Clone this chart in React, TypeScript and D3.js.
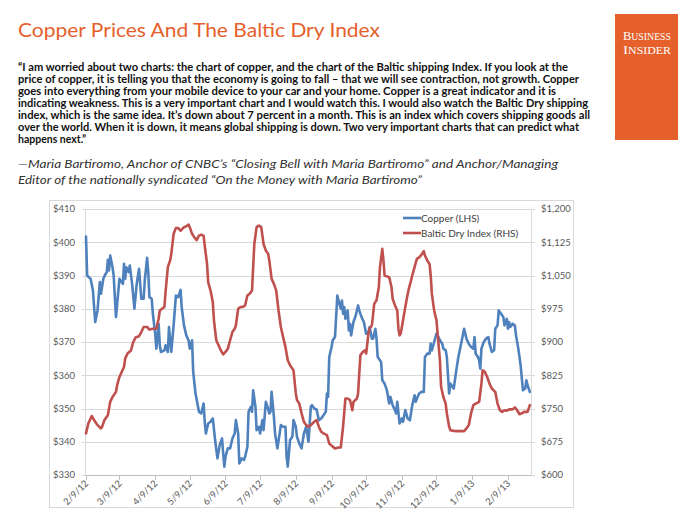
import React from "react";
import * as d3 from "d3";

const copper: [string, number][] = [
  ["2012-02-09", 401.7], ["2012-02-10", 390], ["2012-02-13", 389], ["2012-02-15", 385.5], ["2012-02-17", 376],
  ["2012-02-19", 379.5], ["2012-02-21", 388], ["2012-02-22", 384.5], ["2012-02-24", 389], ["2012-02-26", 390.5],
  ["2012-02-27", 391], ["2012-02-28", 394.7], ["2012-02-29", 391.5], ["2012-03-01", 396], ["2012-03-03", 392.5],
  ["2012-03-04", 390], ["2012-03-06", 377.5], ["2012-03-09", 389], ["2012-03-10", 388.5], ["2012-03-12", 387.5],
  ["2012-03-13", 393.5], ["2012-03-14", 389], ["2012-03-15", 392.5], ["2012-03-17", 391], ["2012-03-18", 393],
  ["2012-03-20", 387.5], ["2012-03-22", 380], ["2012-03-24", 387.5], ["2012-03-26", 392], ["2012-03-28", 383],
  ["2012-03-30", 383], ["2012-03-31", 388.5], ["2012-04-02", 395.3], ["2012-04-03", 391], ["2012-04-04", 383.5],
  ["2012-04-06", 383], ["2012-04-07", 378.5], ["2012-04-09", 372.5], ["2012-04-10", 368], ["2012-04-12", 375.5],
  ["2012-04-13", 369], ["2012-04-14", 367], ["2012-04-17", 367.5], ["2012-04-18", 369], ["2012-04-20", 367],
  ["2012-04-21", 374.5], ["2012-04-23", 367], ["2012-04-25", 375], ["2012-04-27", 384], ["2012-04-29", 383.5],
  ["2012-05-01", 385.7], ["2012-05-02", 380.5], ["2012-05-04", 375], ["2012-05-06", 372], ["2012-05-08", 370.5],
  ["2012-05-09", 368], ["2012-05-11", 370.5], ["2012-05-12", 361], ["2012-05-14", 354.5], ["2012-05-17", 349],
  ["2012-05-19", 348.5], ["2012-05-21", 351.5], ["2012-05-22", 346], ["2012-05-23", 342.5], ["2012-05-25", 345.5],
  ["2012-05-27", 346], ["2012-05-29", 347], ["2012-05-31", 340.5], ["2012-06-02", 335], ["2012-06-04", 339],
  ["2012-06-06", 341], ["2012-06-07", 336.5], ["2012-06-08", 332.5], ["2012-06-09", 335.5], ["2012-06-11", 338],
  ["2012-06-13", 338], ["2012-06-15", 341], ["2012-06-17", 342.5], ["2012-06-18", 346.5], ["2012-06-20", 342.5],
  ["2012-06-21", 333.5], ["2012-06-23", 335], ["2012-06-25", 334.5], ["2012-06-26", 335.5], ["2012-06-28", 338.5],
  ["2012-06-29", 349], ["2012-07-01", 350.5], ["2012-07-02", 349], ["2012-07-03", 355.5], ["2012-07-05", 350.5],
  ["2012-07-06", 343.5], ["2012-07-08", 344.5], ["2012-07-09", 342.5], ["2012-07-11", 346.5], ["2012-07-12", 343.5],
  ["2012-07-14", 352], ["2012-07-15", 351], ["2012-07-17", 348.5], ["2012-07-18", 349], ["2012-07-19", 355],
  ["2012-07-21", 347.5], ["2012-07-22", 342.5], ["2012-07-24", 338], ["2012-07-26", 342.5], ["2012-07-27", 345],
  ["2012-07-29", 344.5], ["2012-07-31", 344.5], ["2012-08-01", 335.5], ["2012-08-02", 332.5], ["2012-08-04", 340.5],
  ["2012-08-06", 341.5], ["2012-08-07", 346.5], ["2012-08-09", 344.5], ["2012-08-10", 341.5], ["2012-08-12", 339.5],
  ["2012-08-14", 338], ["2012-08-16", 342.5], ["2012-08-18", 344.5], ["2012-08-20", 340], ["2012-08-22", 350.5],
  ["2012-08-23", 351], ["2012-08-25", 350], ["2012-08-27", 349.7], ["2012-08-29", 346.5], ["2012-08-31", 347],
  ["2012-09-02", 348], ["2012-09-04", 349], ["2012-09-05", 354.5], ["2012-09-06", 353.5], ["2012-09-07", 365.5],
  ["2012-09-09", 368.5], ["2012-09-10", 370.5], ["2012-09-12", 371.5], ["2012-09-14", 384], ["2012-09-15", 382.5],
  ["2012-09-17", 380], ["2012-09-18", 382.5], ["2012-09-19", 378.5], ["2012-09-20", 380.5], ["2012-09-21", 377],
  ["2012-09-23", 379.5], ["2012-09-24", 373.5], ["2012-09-25", 375.5], ["2012-09-26", 372], ["2012-09-28", 376],
  ["2012-09-30", 378], ["2012-10-02", 381], ["2012-10-03", 379.5], ["2012-10-05", 377.5], ["2012-10-07", 376],
  ["2012-10-09", 372.5], ["2012-10-11", 373], ["2012-10-12", 374.5], ["2012-10-14", 371], ["2012-10-15", 371],
  ["2012-10-17", 374], ["2012-10-18", 371], ["2012-10-19", 365.5], ["2012-10-22", 364], ["2012-10-23", 358.5],
  ["2012-10-25", 357.5], ["2012-10-27", 355.5], ["2012-10-29", 351.5], ["2012-10-30", 353.5], ["2012-11-01", 351],
  ["2012-11-03", 349.5], ["2012-11-04", 348.5], ["2012-11-05", 352], ["2012-11-07", 345.5], ["2012-11-09", 347],
  ["2012-11-10", 346], ["2012-11-12", 349.5], ["2012-11-14", 347], ["2012-11-16", 346.5], ["2012-11-18", 351],
  ["2012-11-20", 354], ["2012-11-21", 352], ["2012-11-22", 353], ["2012-11-24", 354.5], ["2012-11-26", 355],
  ["2012-11-28", 355], ["2012-11-29", 365.5], ["2012-12-01", 366.5], ["2012-12-03", 366.5], ["2012-12-04", 369.5],
  ["2012-12-05", 367.5], ["2012-12-07", 370], ["2012-12-09", 372.5], ["2012-12-10", 372], ["2012-12-12", 370.5],
  ["2012-12-14", 369.5], ["2012-12-15", 368], ["2012-12-17", 367.5], ["2012-12-18", 365.5], ["2012-12-20", 354.5],
  ["2012-12-21", 357.5], ["2012-12-23", 356.5], ["2012-12-24", 356], ["2012-12-26", 361], ["2012-12-28", 365.5],
  ["2012-12-31", 370.5], ["2013-01-02", 374], ["2013-01-04", 371], ["2013-01-06", 369.5], ["2013-01-08", 368.5],
  ["2013-01-10", 368], ["2013-01-11", 371.5], ["2013-01-12", 366.5], ["2013-01-14", 365.5], ["2013-01-15", 364.5],
  ["2013-01-16", 362], ["2013-01-17", 368], ["2013-01-19", 370], ["2013-01-21", 371], ["2013-01-23", 371.5],
  ["2013-01-24", 369.5], ["2013-01-26", 367], ["2013-01-28", 367.5], ["2013-01-29", 374], ["2013-01-31", 375],
  ["2013-02-01", 379.5], ["2013-02-03", 378.5], ["2013-02-05", 377.5], ["2013-02-06", 375], ["2013-02-08", 377],
  ["2013-02-09", 374], ["2013-02-10", 376], ["2013-02-11", 374.5], ["2013-02-13", 375.5], ["2013-02-15", 375],
  ["2013-02-16", 372], ["2013-02-18", 368], ["2013-02-20", 363], ["2013-02-22", 355.5], ["2013-02-24", 356],
  ["2013-02-25", 358.5], ["2013-02-26", 357], ["2013-02-28", 355],
];

const baltic: [string, number][] = [
  ["2012-02-09", 694], ["2012-02-11", 716], ["2012-02-13", 727.5], ["2012-02-14", 733], ["2012-02-17", 720],
  ["2012-02-19", 712.5], ["2012-02-22", 705], ["2012-02-23", 709], ["2012-02-25", 724], ["2012-02-28", 735],
  ["2012-03-01", 765], ["2012-03-03", 776], ["2012-03-06", 787.5], ["2012-03-07", 802.5], ["2012-03-09", 821],
  ["2012-03-11", 832.5], ["2012-03-13", 844], ["2012-03-14", 862.5], ["2012-03-16", 874], ["2012-03-19", 881],
  ["2012-03-21", 900], ["2012-03-23", 910], ["2012-03-26", 913], ["2012-03-28", 922.5], ["2012-03-30", 934],
  ["2012-04-02", 934], ["2012-04-04", 928], ["2012-04-07", 930], ["2012-04-10", 930], ["2012-04-12", 952.5],
  ["2012-04-13", 971], ["2012-04-15", 975], ["2012-04-17", 979], ["2012-04-18", 1012.5], ["2012-04-20", 1069],
  ["2012-04-22", 1084], ["2012-04-23", 1099], ["2012-04-25", 1144], ["2012-04-27", 1157], ["2012-04-29", 1157],
  ["2012-05-01", 1151], ["2012-05-04", 1159], ["2012-05-06", 1161], ["2012-05-08", 1165], ["2012-05-09", 1159],
  ["2012-05-11", 1144], ["2012-05-13", 1136], ["2012-05-15", 1130], ["2012-05-17", 1140], ["2012-05-19", 1142],
  ["2012-05-21", 1140], ["2012-05-22", 1117.5], ["2012-05-24", 1076], ["2012-05-25", 1035], ["2012-05-27", 1016],
  ["2012-05-29", 990], ["2012-05-30", 949], ["2012-06-01", 904], ["2012-06-03", 892.5], ["2012-06-05", 881],
  ["2012-06-07", 872], ["2012-06-09", 877.5], ["2012-06-11", 885], ["2012-06-13", 904], ["2012-06-15", 922.5],
  ["2012-06-17", 930], ["2012-06-18", 937.5], ["2012-06-20", 975], ["2012-06-22", 979], ["2012-06-24", 979],
  ["2012-06-26", 982.5], ["2012-06-28", 1005], ["2012-06-30", 1009], ["2012-07-02", 1016], ["2012-07-04", 1121],
  ["2012-07-06", 1159], ["2012-07-08", 1162.5], ["2012-07-10", 1159], ["2012-07-12", 1121], ["2012-07-14", 1106],
  ["2012-07-16", 1099], ["2012-07-17", 1084], ["2012-07-19", 1042.5], ["2012-07-21", 1031], ["2012-07-23", 1016],
  ["2012-07-25", 971], ["2012-07-27", 934], ["2012-07-29", 911], ["2012-07-31", 889], ["2012-08-02", 859],
  ["2012-08-04", 847.5], ["2012-08-07", 836], ["2012-08-09", 784], ["2012-08-10", 769], ["2012-08-12", 761],
  ["2012-08-14", 739], ["2012-08-16", 720], ["2012-08-18", 712.5], ["2012-08-20", 709], ["2012-08-22", 712.5],
  ["2012-08-25", 720], ["2012-08-27", 724], ["2012-08-29", 709], ["2012-08-31", 697.5], ["2012-09-02", 694],
  ["2012-09-05", 690], ["2012-09-07", 671], ["2012-09-10", 664], ["2012-09-12", 660], ["2012-09-15", 662],
  ["2012-09-17", 662], ["2012-09-19", 709], ["2012-09-21", 772.5], ["2012-09-23", 772.5], ["2012-09-25", 769],
  ["2012-09-27", 746], ["2012-09-28", 765], ["2012-10-01", 772.5], ["2012-10-02", 784], ["2012-10-04", 870],
  ["2012-10-06", 877.5], ["2012-10-08", 881], ["2012-10-09", 874], ["2012-10-11", 919], ["2012-10-12", 930],
  ["2012-10-14", 937.5], ["2012-10-16", 986], ["2012-10-18", 994], ["2012-10-19", 1009], ["2012-10-20", 1024],
  ["2012-10-21", 1069], ["2012-10-23", 1110], ["2012-10-24", 1084], ["2012-10-25", 1050], ["2012-10-27", 1048],
  ["2012-10-29", 1046], ["2012-10-31", 1024], ["2012-11-01", 997.5], ["2012-11-03", 982.5], ["2012-11-05", 971],
  ["2012-11-06", 930], ["2012-11-07", 915], ["2012-11-08", 919], ["2012-11-10", 949], ["2012-11-11", 964],
  ["2012-11-13", 994], ["2012-11-15", 1020], ["2012-11-17", 1039], ["2012-11-18", 1050], ["2012-11-20", 1069],
  ["2012-11-22", 1087.5], ["2012-11-24", 1091], ["2012-11-26", 1097], ["2012-11-28", 1105], ["2012-11-29", 1095],
  ["2012-12-01", 1084], ["2012-12-03", 1076], ["2012-12-04", 1050], ["2012-12-05", 1009], ["2012-12-07", 971],
  ["2012-12-09", 949], ["2012-12-10", 919], ["2012-12-12", 859], ["2012-12-13", 799], ["2012-12-15", 776],
  ["2012-12-17", 761], ["2012-12-18", 739], ["2012-12-20", 709], ["2012-12-21", 701], ["2012-12-24", 699.5],
  ["2012-12-28", 699], ["2013-01-02", 699], ["2013-01-04", 705], ["2013-01-06", 712.5], ["2013-01-08", 739],
  ["2013-01-10", 757.5], ["2013-01-12", 761], ["2013-01-15", 765], ["2013-01-17", 806], ["2013-01-18", 836],
  ["2013-01-20", 832.5], ["2013-01-22", 821], ["2013-01-24", 806], ["2013-01-26", 795], ["2013-01-29", 787.5],
  ["2013-01-31", 761], ["2013-02-02", 746], ["2013-02-04", 742.5], ["2013-02-06", 746], ["2013-02-08", 745],
  ["2013-02-10", 748], ["2013-02-13", 748], ["2013-02-15", 752.5], ["2013-02-17", 746], ["2013-02-19", 737],
  ["2013-02-21", 739], ["2013-02-23", 742.5], ["2013-02-26", 742.5], ["2013-02-28", 757.5],
];

const copperTicks = [330, 340, 350, 360, 370, 380, 390, 400, 410];
const balticTicks = [600, 675, 750, 825, 900, 975, 1050, 1125, 1200];
const monthTicks = [
  "2012-02-09", "2012-03-09", "2012-04-09", "2012-05-09", "2012-06-09", "2012-07-09", "2012-08-09",
  "2012-09-09", "2012-10-09", "2012-11-09", "2012-12-09", "2013-01-09", "2013-02-09",
];
const xDomain = ["2012-02-09", "2013-03-01"];

const titleText = "Copper Prices And The Baltic Dry Index";
const quoteLines = [
  "\u201CI am worried about two charts: the chart of copper, and the chart of the Baltic shipping Index. If you look at the",
  "price of copper, it is telling you that the economy is going to fall \u2013 that we will see contraction, not growth. Copper",
  "goes into everything from your mobile device to your car and your home. Copper is a great indicator and it is",
  "indicating weakness. This is a very important chart and I would watch this. I would also watch the Baltic Dry shipping",
  "index, which is the same idea. It\u2019s down about 7 percent in a month. This is an index which covers shipping goods all",
  "over the world. When it is down, it means global shipping is down. Two very important charts that can predict what",
  "happens next.\u201D",
];
const quoteWidths = [550, 561, 538, 570, 572, 561, 0];
const attributionLines = [
  "\u2014Maria Bartiromo, Anchor of CNBC\u2019s \u201CClosing Bell with Maria Bartiromo\u201D and Anchor/Managing",
  "Editor of the nationally syndicated \u201COn the Money with Maria Bartiromo\u201D",
];
const attributionWidths = [540, 404];
const legendLabels = ["Copper (LHS)", "Baltic Dry Index (RHS)"];

const ORANGE = "#E5602B";
const BLUE = "#4F81BD";
const RED = "#C0504D";
const GRID = "#D9D9D9";
const AXIS_TEXT = "#595959";
const FONT = "Lato, 'Open Sans', sans-serif";

export default function App() {
  const parse = d3.timeParse("%Y-%m-%d");
  const plot = { left: 86, right: 531, top: 209, bottom: 475 };

  const x = d3
    .scaleTime()
    .domain([parse(xDomain[0]) as Date, parse(xDomain[1]) as Date])
    .range([plot.left, plot.right]);
  const yL = d3.scaleLinear().domain([330, 410]).range([plot.bottom, plot.top]);
  const yR = d3.scaleLinear().domain([600, 1200]).range([plot.bottom, plot.top]);

  const copperPath = d3
    .line<[string, number]>()
    .x((d) => x(parse(d[0]) as Date))
    .y((d) => yL(d[1]))(copper) as string;
  const balticPath = d3
    .line<[string, number]>()
    .x((d) => x(parse(d[0]) as Date))
    .y((d) => yR(d[1]))(baltic) as string;

  const fmtL = d3.format("$.0f");
  const fmtR = d3.format("$,.0f");
  const fmtX = d3.timeFormat("%-m/%-d/%y");

  return (
    <svg
      width={700}
      height={525}
      viewBox="0 0 700 525"
      style={{ position: "absolute", left: 0, top: 0, background: "#fff" }}
    >
      <rect x={0} y={0} width={700} height={525} fill="#fff" />

      {/* Title */}
      <text
        x={18}
        y={37}
        fontFamily={FONT}
        fontSize={20}
        fill={ORANGE}
        textLength={362}
        lengthAdjust="spacingAndGlyphs"
      >
        {titleText}
      </text>

      {/* Business Insider logo */}
      <rect x={615} y={14} width={63} height={126} fill={ORANGE} />
      <text
        x={623}
        y={40}
        fontFamily="'Liberation Serif', 'DejaVu Serif', serif"
        fill="#fff"
        textLength={48}
        lengthAdjust="spacingAndGlyphs"
      >
        <tspan fontSize={12.5}>B</tspan>
        <tspan fontSize={9.8}>USINESS</tspan>
      </text>
      <text
        x={623}
        y={54}
        fontFamily="'Liberation Serif', 'DejaVu Serif', serif"
        fill="#fff"
        textLength={48}
        lengthAdjust="spacingAndGlyphs"
      >
        <tspan fontSize={12.5}>I</tspan>
        <tspan fontSize={9.8}>NSIDER</tspan>
      </text>

      {/* Quote */}
      {quoteLines.map((line, i) => (
        <text
          key={i}
          x={18}
          y={71 + i * 12}
          fontFamily={FONT}
          fontWeight={700}
          fontSize={10.5}
          fill="#111"
          {...(quoteWidths[i] ? { textLength: quoteWidths[i], lengthAdjust: "spacingAndGlyphs" } : {})}
        >
          {line}
        </text>
      ))}

      {/* Attribution */}
      {attributionLines.map((line, i) => (
        <text
          key={i}
          x={18}
          y={168 + i * 16}
          fontFamily={FONT}
          fontStyle="italic"
          fontSize={12}
          fill="#333"
          textLength={attributionWidths[i]}
          lengthAdjust="spacingAndGlyphs"
        >
          {line}
        </text>
      ))}

      {/* Chart frame */}
      <rect x={49.5} y={200.5} width={524} height={307} fill="none" stroke={GRID} strokeWidth={1} />

      {/* Gridlines + left ticks */}
      {copperTicks.map((t) => (
        <g key={t}>
          <line
            x1={plot.left - 4}
            x2={plot.right + 4}
            y1={Math.round(yL(t)) + 0.5}
            y2={Math.round(yL(t)) + 0.5}
            stroke={GRID}
            strokeWidth={1}
          />
          <text
            x={75}
            y={yL(t)}
            dy="0.35em"
            textAnchor="end"
            fontFamily={FONT}
            fontSize={9.5}
            fill={AXIS_TEXT}
          >
            {fmtL(t)}
          </text>
        </g>
      ))}

      {/* Right axis labels */}
      {balticTicks.map((t) => (
        <text
          key={t}
          x={541}
          y={yR(t)}
          dy="0.35em"
          textAnchor="start"
          fontFamily={FONT}
          fontSize={9.5}
          fill={AXIS_TEXT}
        >
          {fmtR(t)}
        </text>
      ))}

      {/* Axis lines */}
      <line x1={plot.left - 0.5} x2={plot.left - 0.5} y1={plot.top} y2={plot.bottom} stroke={GRID} />
      <line x1={plot.right + 0.5} x2={plot.right + 0.5} y1={plot.top} y2={plot.bottom} stroke={GRID} />
      <line x1={plot.left} x2={plot.right} y1={plot.bottom + 0.5} y2={plot.bottom + 0.5} stroke="#BFBFBF" />

      {/* X ticks and labels */}
      {monthTicks.map((s) => {
        const xx = x(parse(s) as Date);
        return (
          <g key={s}>
            <line
              x1={Math.round(xx) + 0.5}
              x2={Math.round(xx) + 0.5}
              y1={plot.bottom}
              y2={plot.bottom + 5}
              stroke="#BFBFBF"
            />
            <text
              transform={`translate(${xx + 3},${plot.bottom + 9}) rotate(-45)`}
              textAnchor="end"
              fontFamily={FONT}
              fontSize={9.5}
              fill={AXIS_TEXT}
            >
              {fmtX(parse(s) as Date)}
            </text>
          </g>
        );
      })}

      {/* Series */}
      <path d={copperPath} fill="none" stroke={BLUE} strokeWidth={2.6} strokeLinejoin="round" strokeLinecap="round" />
      <path d={balticPath} fill="none" stroke={RED} strokeWidth={2.6} strokeLinejoin="round" strokeLinecap="round" />

      {/* Legend */}
      {legendLabels.map((lab, i) => (
        <g key={lab}>
          <line
            x1={403}
            x2={421}
            y1={218 + i * 15}
            y2={218 + i * 15}
            stroke={i === 0 ? BLUE : RED}
            strokeWidth={2.6}
          />
          <text
            x={421}
            y={218 + i * 15}
            dy="0.35em"
            fontFamily={FONT}
            fontSize={10}
            fill="#404040"
          >
            {lab}
          </text>
        </g>
      ))}
    </svg>
  );
}
